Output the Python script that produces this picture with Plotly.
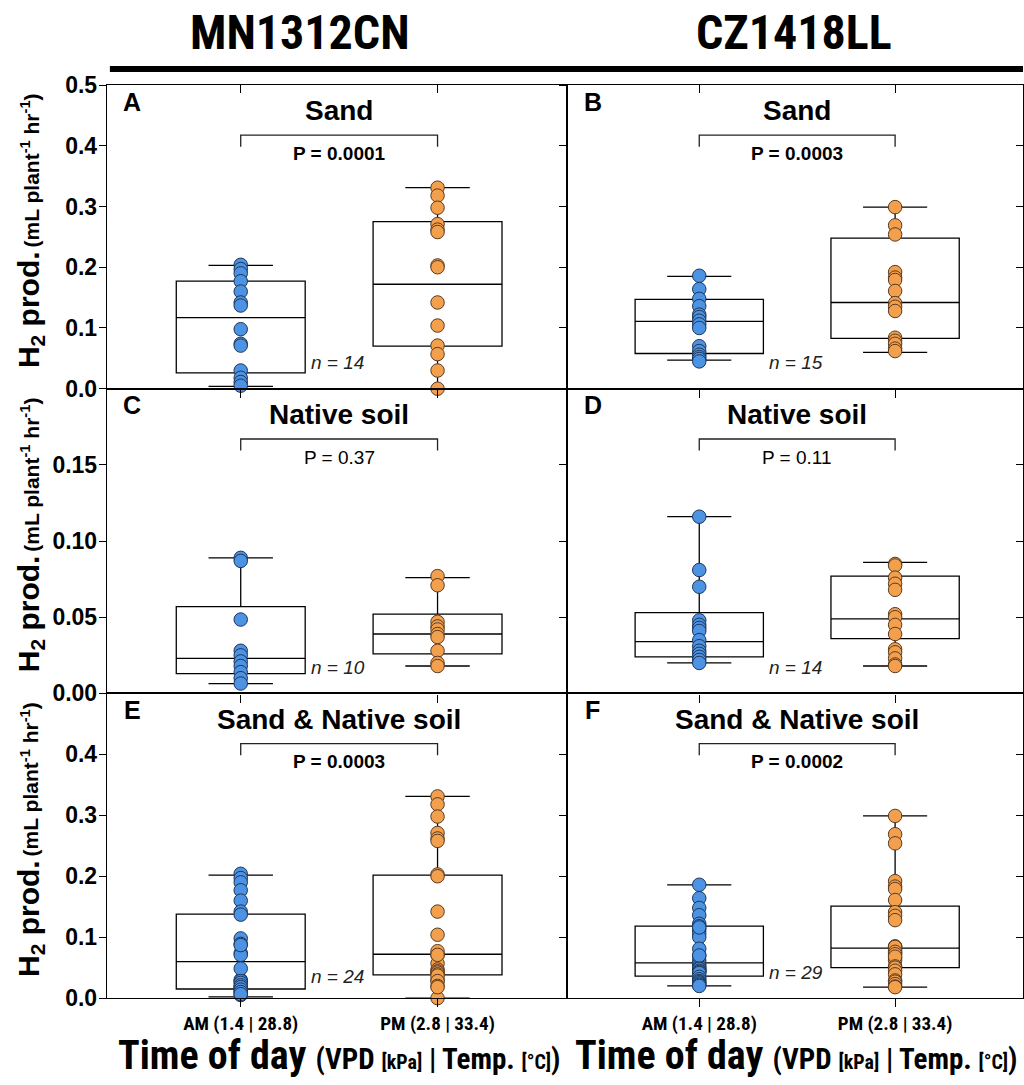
import plotly.graph_objects as go

# ---------------- data ----------------
panel_letters = ["A", "B", "C", "D", "E", "F"]
panel_titles = ["Sand", "Sand", "Native soil", "Native soil",
                "Sand &amp; Native soil", "Sand &amp; Native soil"]
p_values = ["P = 0.0001", "P = 0.0003", "P = 0.37", "P = 0.11",
            "P = 0.0003", "P = 0.0002"]
p_bold = [True, True, False, False, True, True]
n_labels = ["n = 14", "n = 15", "n = 10", "n = 14", "n = 24", "n = 29"]
col_titles = ["MN1312CN", "CZ1418LL"]
x_categories = ["AM (1.4 | 28.8)", "PM (2.8 | 33.4)"]

# individual observations (mL plant-1 hr-1)
a_am = [0.204, 0.197, 0.190, 0.177, 0.160, 0.142, 0.137, 0.098, 0.074, 0.071, 0.030, 0.018, 0.011, 0.005]
a_pm = [0.331, 0.318, 0.298, 0.271, 0.262, 0.258, 0.203, 0.200, 0.142, 0.104, 0.071, 0.057, 0.030, 0.000]
b_am = [0.186, 0.164, 0.148, 0.136, 0.122, 0.118, 0.112, 0.106, 0.100, 0.070, 0.062, 0.056, 0.052, 0.049, 0.045]
b_pm = [0.299, 0.269, 0.254, 0.192, 0.183, 0.179, 0.161, 0.141, 0.135, 0.128, 0.084, 0.079, 0.074, 0.066, 0.062]
c_am = [0.089, 0.087, 0.0485, 0.028, 0.025, 0.021, 0.018, 0.014, 0.010, 0.0065]
c_pm = [0.077, 0.071, 0.047, 0.044, 0.042, 0.039, 0.037, 0.028, 0.020, 0.018]
d_am = [0.116, 0.081, 0.070, 0.048, 0.045, 0.043, 0.041, 0.035, 0.031, 0.028, 0.026, 0.024, 0.022, 0.020]
d_pm = [0.085, 0.084, 0.076, 0.072, 0.068, 0.052, 0.050, 0.045, 0.039, 0.029, 0.027, 0.023, 0.019, 0.018]
e_am = a_am + c_am
e_pm = a_pm + c_pm
f_am = b_am + d_am
f_pm = b_pm + d_pm

am_points = [a_am, b_am, c_am, d_am, e_am, f_am]
pm_points = [a_pm, b_pm, c_pm, d_pm, e_pm, f_pm]

# box statistics: [AM, PM] per panel
box_q1 = [[0.026, 0.070], [0.058, 0.083], [0.013, 0.026], [0.024, 0.036], [0.015, 0.038], [0.036, 0.050]]
box_med = [[0.117, 0.172], [0.111, 0.142], [0.023, 0.039], [0.034, 0.049], [0.060, 0.072], [0.058, 0.082]]
box_q3 = [[0.177, 0.275], [0.147, 0.248], [0.057, 0.052], [0.053, 0.077], [0.138, 0.202], [0.118, 0.151]]
box_lo = [[0.004, 0.000], [0.047, 0.060], [0.0065, 0.018], [0.020, 0.018], [0.002, 0.000], [0.020, 0.018]]
box_hi = [[0.203, 0.331], [0.185, 0.299], [0.089, 0.076], [0.116, 0.086], [0.202, 0.331], [0.186, 0.299]]

row_ranges = [[0, 0.5], [0, 0.2], [0, 0.5]]
row_tickvals = [[0, 0.1, 0.2, 0.3, 0.4, 0.5], [0, 0.05, 0.10, 0.15], [0, 0.1, 0.2, 0.3, 0.4]]
row_ticktext = [["0.0", "0.1", "0.2", "0.3", "0.4", "0.5"],
                ["0.00", "0.05", "0.10", "0.15"],
                ["0.0", "0.1", "0.2", "0.3", "0.4"]]

# ---------------- style ----------------
W, H = 1024, 1085
BLUE, BLUE_EDGE = "#4C93E4", "#1E3558"
ORANGE, ORANGE_EDGE = "#F3A04E", "#5A3A1E"
BOLD = "Liberation Sans, Arial, sans-serif"
COND = "Roboto, Liberation Sans, sans-serif"


def vy(p):
    """target vertical pixel -> layout pixel (compensates page fit)"""
    return (p - 11.9) / 0.977


col_px = [(107, 568), (568, 1024)]
row_px = [(vy(84), vy(388)), (vy(388), vy(693)), (vy(693), vy(998))]
col_xrange = [[-0.680, 1.660], [-0.673, 1.653]]


def px_x(p):
    return p / W


def px_y(p):
    return 1 - p / H


def sfx(n):
    return "" if n == 1 else str(n)


def cond(text, size=None):
    style = "font-stretch:condensed"
    if size:
        style += f";font-size:{size}px"
    return f"<span style='{style}'><b>{text}</b></span>"


fig = go.Figure()
layout = dict(width=W, height=H, margin=dict(l=0, r=0, t=0, b=0),
              paper_bgcolor="white", plot_bgcolor="white", showlegend=False)

shapes = []
annotations = []


def note(**kw):
    kw.setdefault("showarrow", False)
    kw.setdefault("xanchor", "center")
    kw.setdefault("yanchor", "middle")
    annotations.append(kw)


for i in range(6):
    r, c = divmod(i, 2)
    s = sfx(i + 1)
    xa, ya = f"x{s}", f"y{s}"
    layout[f"xaxis{s}"] = dict(
        domain=[px_x(col_px[c][0]), px_x(col_px[c][1])], range=col_xrange[c],
        anchor=ya, tickvals=[0, 1],
        ticktext=[cond(t) for t in x_categories] if r == 2 else ["", ""],
        showticklabels=(r == 2), ticks="outside", ticklen=8, tickwidth=1.3,
        tickcolor="black", showline=True, linecolor="black", linewidth=1.3,
        mirror=True, showgrid=False, zeroline=False, fixedrange=True,
        ticklabelstandoff=0,
        tickfont=dict(family=COND, size=19, color="black"))
    layout[f"yaxis{s}"] = dict(
        domain=[px_y(row_px[r][1]), px_y(row_px[r][0])], range=row_ranges[r],
        anchor=xa, tickvals=row_tickvals[r],
        ticktext=[f"<b>{t}</b>" for t in row_ticktext[r]],
        showticklabels=(c == 0), ticks="outside", ticklen=7, tickwidth=1.3,
        tickcolor="black", showline=True, linecolor="black", linewidth=1.3,
        mirror=True, showgrid=False, zeroline=False, fixedrange=True,
        ticklabelstandoff=-3,
        tickfont=dict(family=BOLD, size=23, color="black"))

    for k in range(2):
        fig.add_trace(go.Box(
            x=[k], q1=[box_q1[i][k]], median=[box_med[i][k]], q3=[box_q3[i][k]],
            lowerfence=[box_lo[i][k]], upperfence=[box_hi[i][k]],
            width=0.655, whiskerwidth=0.5, boxpoints=False,
            fillcolor="white", line=dict(color="black", width=1.3),
            xaxis=xa, yaxis=ya, hoverinfo="skip"))
    for k, (pts, col, edge) in enumerate([(am_points[i], BLUE, BLUE_EDGE),
                                          (pm_points[i], ORANGE, ORANGE_EDGE)]):
        fig.add_trace(go.Scatter(
            x=[k] * len(pts), y=pts, mode="markers",
            marker=dict(size=13.5, color=col, line=dict(color=edge, width=1)),
            xaxis=xa, yaxis=ya, cliponaxis=False, hoverinfo="skip"))

    # bracket
    shapes.append(dict(type="path", xref=xa, yref=f"{ya} domain",
                       path="M 0,0.797 L 0,0.835 L 1,0.835 L 1,0.797",
                       line=dict(color="#222", width=1.3)))
    note(xref=xa, yref=f"{ya} domain", x=0.5, y=0.915,
         text=f"<b>{panel_titles[i]}</b>",
         font=dict(family=BOLD, size=28, color="black"))
    ptxt = f"<b>{p_values[i]}</b>" if p_bold[i] else p_values[i]
    note(xref=xa, yref=f"{ya} domain", x=0.5, y=0.775, text=ptxt,
         font=dict(family=BOLD, size=19, color="black"))
    note(xref=f"{xa} domain", yref=f"{ya} domain", x=0.055, y=0.945,
         text=f"<b>{panel_letters[i]}</b>",
         font=dict(family=BOLD, size=25, color="black"))
    n_y = [0.086, 0.086, 0.085, 0.085, 0.072, 0.085][i]
    note(xref=xa, yref=f"{ya} domain", x=0.345, y=n_y, xanchor="left",
         text=f"<i>{n_labels[i]}</i>",
         font=dict(family=BOLD, size=19, color="#222"))

# inward ticks on the top edge of the top row
for j, c in enumerate([0, 1]):
    n_ax = 7 + j
    layout[f"xaxis{n_ax}"] = dict(
        overlaying=f"x{sfx(c + 1)}", side="top", anchor=f"y{sfx(c + 1)}",
        range=col_xrange[c], tickvals=[0, 1], showticklabels=False,
        ticks="inside", ticklen=8, tickwidth=1.3, tickcolor="black",
        showline=False, showgrid=False, zeroline=False, fixedrange=True)
    fig.add_trace(go.Scatter(x=[None], y=[None], xaxis=f"x{n_ax}", yaxis=f"y{sfx(c + 1)}",
                             mode="markers", hoverinfo="skip"))

# ticks of the neighbouring (cropped) panel at the right edge
for j, r in enumerate([0, 1, 2]):
    idx = r * 2 + 2
    n_ax = 7 + j
    layout[f"yaxis{n_ax}"] = dict(
        overlaying=f"y{sfx(idx)}", side="right", anchor=f"x{sfx(idx)}",
        range=row_ranges[r], tickvals=row_tickvals[r][1:],
        showticklabels=False, ticks="inside", ticklen=7, tickwidth=1.3,
        tickcolor="black", showline=False, showgrid=False,
        zeroline=False, fixedrange=True)
    fig.add_trace(go.Scatter(x=[None], y=[None], xaxis=f"x{sfx(idx)}", yaxis=f"y{n_ax}",
                             mode="markers", hoverinfo="skip"))

# thick header rule
shapes.append(dict(type="line", xref="paper", yref="paper", x0=px_x(110), x1=1,
                   y0=px_y(vy(68)), y1=px_y(vy(68)), line=dict(color="black", width=6)))

# column titles
for c, cx in enumerate([300, 795]):
    note(xref="paper", yref="paper", x=px_x(cx), y=px_y(vy(31)),
         text=cond(col_titles[c]), font=dict(family=COND, size=48, color="black"))

# y-axis titles (two parts, rotated)
for r in range(3):
    cy = (row_px[r][0] + row_px[r][1]) / 2
    note(xref="paper", yref="paper", x=px_x(30), y=px_y(cy + 74), textangle=-90,
         text="<b>H<sub>2</sub> prod.</b>",
         font=dict(family=BOLD, size=30, color="black"))
    note(xref="paper", yref="paper", x=px_x(30), y=px_y(cy - 68), textangle=-90,
         text="<b>(mL plant<sup>-1</sup> hr<sup>-1</sup>)</b>",
         font=dict(family=BOLD, size=21, color="black"))

# x-axis titles
xtitle = (cond("Time of day ", 40) + cond("(VPD ", 29) + cond("[kPa]", 20)
          + cond(" | Temp. ", 29) + cond("[°C]", 20) + cond(")", 29))
for cx in [339, 797]:
    note(xref="paper", yref="paper", x=px_x(cx), y=px_y(1068), text=xtitle,
         font=dict(family=COND, size=29, color="black"))

layout["shapes"] = shapes
layout["annotations"] = annotations
fig.update_layout(**layout)
fig.write_html("out.html")
